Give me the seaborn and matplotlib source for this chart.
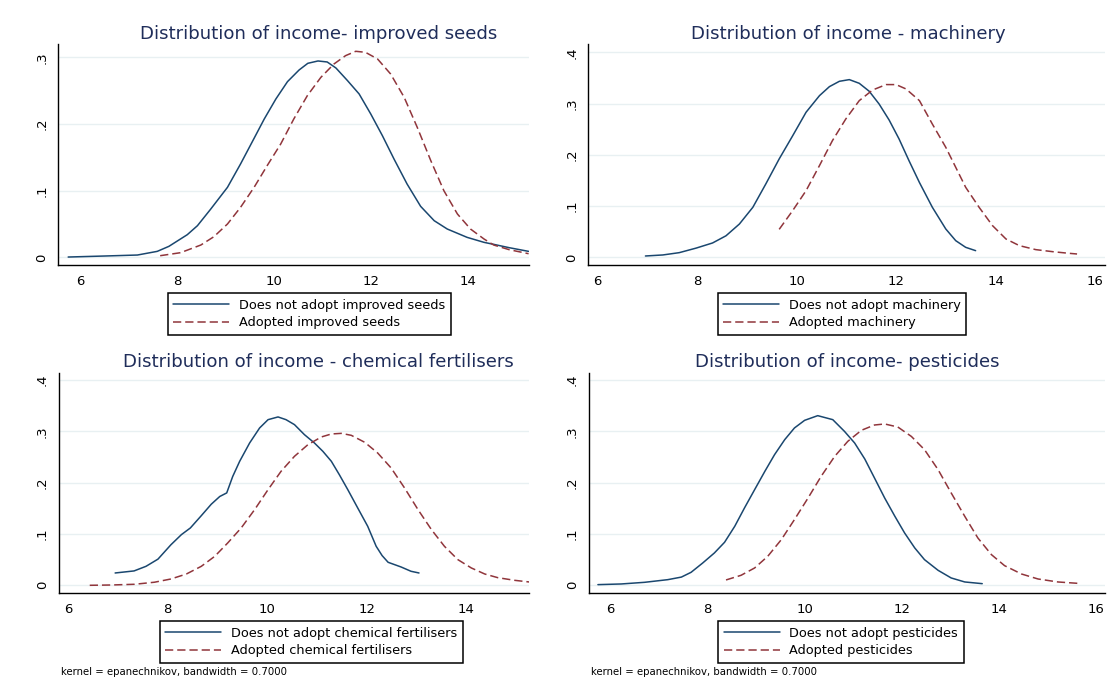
import numpy as np
import pandas as pd
import matplotlib
matplotlib.use("Agg")
import matplotlib.pyplot as plt
import seaborn as sns

# ---------------- data ----------------
seeds_no_x = [5.74, 6.48, 7.17, 7.58, 7.82, 8.20, 8.41, 8.68, 9.03, 9.30, 9.58, 9.79, 10.03, 10.27, 10.51, 10.69, 10.90, 11.09, 11.27, 11.51, 11.75, 11.99, 12.23, 12.47, 12.74, 13.02, 13.30, 13.57, 13.98, 14.33, 14.53, 14.85, 15.25]
seeds_no_y = [0.0005, 0.002, 0.0035, 0.009, 0.0165, 0.034, 0.0475, 0.072, 0.105, 0.140, 0.1785, 0.2075, 0.2375, 0.2635, 0.281, 0.291, 0.2945, 0.293, 0.284, 0.265, 0.245, 0.215, 0.1825, 0.1475, 0.110, 0.0765, 0.055, 0.0425, 0.030, 0.0225, 0.0195, 0.0145, 0.009]
seeds_yes_x = [7.64, 8.06, 8.48, 8.75, 9.03, 9.30, 9.58, 9.85, 10.13, 10.40, 10.68, 10.96, 11.23, 11.47, 11.68, 11.88, 12.13, 12.40, 12.68, 12.95, 13.23, 13.50, 13.78, 14.05, 14.33, 14.53, 14.85, 15.25]
seeds_yes_y = [0.0025, 0.007, 0.0185, 0.031, 0.050, 0.075, 0.105, 0.1375, 0.170, 0.2075, 0.2425, 0.270, 0.290, 0.3025, 0.309, 0.3075, 0.2975, 0.275, 0.240, 0.195, 0.145, 0.100, 0.065, 0.0425, 0.0275, 0.0185, 0.0115, 0.0055]

mach_no_x = [6.96, 7.31, 7.64, 7.98, 8.31, 8.58, 8.85, 9.12, 9.38, 9.65, 9.92, 10.19, 10.46, 10.66, 10.86, 11.06, 11.26, 11.46, 11.66, 11.86, 12.06, 12.26, 12.47, 12.73, 13.00, 13.20, 13.40, 13.60]
mach_no_y = [0.0026, 0.0046, 0.0091, 0.018, 0.028, 0.042, 0.065, 0.0976, 0.143, 0.192, 0.237, 0.283, 0.3154, 0.333, 0.3434, 0.3467, 0.3395, 0.324, 0.299, 0.268, 0.231, 0.1886, 0.146, 0.0976, 0.0553, 0.0325, 0.0195, 0.013]
mach_yes_x = [9.65, 9.92, 10.19, 10.46, 10.72, 10.99, 11.26, 11.53, 11.80, 12.00, 12.20, 12.47, 12.73, 13.00, 13.20, 13.40, 13.67, 13.94, 14.21, 14.48, 14.81, 15.15, 15.48, 15.64]
mach_yes_y = [0.0546, 0.091, 0.130, 0.179, 0.2276, 0.270, 0.3057, 0.3265, 0.337, 0.337, 0.3285, 0.3057, 0.260, 0.2146, 0.1756, 0.1366, 0.0976, 0.0618, 0.0358, 0.0228, 0.015, 0.011, 0.0078, 0.0065]

fert_no_x = [6.95, 7.33, 7.57, 7.81, 8.07, 8.28, 8.46, 8.68, 8.88, 9.05, 9.19, 9.31, 9.45, 9.65, 9.85, 10.02, 10.22, 10.38, 10.55, 10.75, 10.95, 11.12, 11.29, 11.45, 11.62, 11.82, 12.02, 12.19, 12.31, 12.43, 12.69, 12.89, 13.05]
fert_no_y = [0.024, 0.028, 0.037, 0.051, 0.079, 0.0987, 0.1117, 0.1357, 0.158, 0.173, 0.180, 0.212, 0.2416, 0.2773, 0.3065, 0.3227, 0.328, 0.3227, 0.313, 0.2935, 0.2773, 0.261, 0.2416, 0.2156, 0.1864, 0.1506, 0.115, 0.076, 0.0578, 0.0448, 0.0357, 0.0273, 0.024]
fert_yes_x = [6.44, 6.87, 7.34, 7.74, 8.07, 8.38, 8.68, 8.95, 9.21, 9.48, 9.75, 10.02, 10.28, 10.55, 10.82, 11.09, 11.29, 11.49, 11.69, 11.96, 12.22, 12.49, 12.76, 13.03, 13.30, 13.56, 13.83, 14.10, 14.37, 14.63, 14.97, 15.26]
fert_yes_y = [0.0, 0.0006, 0.002, 0.006, 0.0123, 0.022, 0.037, 0.0565, 0.0825, 0.1117, 0.1474, 0.1864, 0.222, 0.2513, 0.274, 0.289, 0.2948, 0.296, 0.2922, 0.2786, 0.2578, 0.2286, 0.1896, 0.1474, 0.1084, 0.076, 0.050, 0.0338, 0.022, 0.0149, 0.0097, 0.0065]

pest_no_x = [5.74, 6.22, 6.70, 7.18, 7.46, 7.66, 7.90, 8.14, 8.35, 8.56, 8.76, 8.97, 9.18, 9.38, 9.59, 9.79, 10.00, 10.27, 10.58, 10.82, 11.03, 11.24, 11.44, 11.65, 11.86, 12.06, 12.27, 12.47, 12.75, 13.02, 13.30, 13.66]
pest_no_y = [0.0013, 0.0026, 0.0058, 0.011, 0.016, 0.0253, 0.0435, 0.063, 0.0838, 0.115, 0.1506, 0.1864, 0.222, 0.2545, 0.2838, 0.3065, 0.3214, 0.3305, 0.3227, 0.300, 0.2773, 0.246, 0.209, 0.170, 0.1344, 0.102, 0.0727, 0.050, 0.0292, 0.0143, 0.0065, 0.0032]
pest_yes_x = [8.38, 8.69, 8.97, 9.24, 9.52, 9.79, 10.07, 10.34, 10.62, 10.89, 11.17, 11.44, 11.65, 11.92, 12.20, 12.47, 12.75, 13.02, 13.30, 13.57, 13.85, 14.12, 14.47, 14.81, 15.22, 15.62]
pest_yes_y = [0.0104, 0.0195, 0.0338, 0.0565, 0.089, 0.128, 0.170, 0.2123, 0.2513, 0.2805, 0.302, 0.3123, 0.3143, 0.3084, 0.290, 0.2643, 0.2253, 0.180, 0.1344, 0.0922, 0.0597, 0.0383, 0.022, 0.0123, 0.0065, 0.0039]

titles = ["Distribution of income- improved seeds",
          "Distribution of income - machinery",
          "Distribution of income - chemical fertilisers",
          "Distribution of income- pesticides"]
labels_no = ["Does not adopt improved seeds", "Does not adopt machinery",
             "Does not adopt chemical fertilisers", "Does not adopt pesticides"]
labels_yes = ["Adopted improved seeds", "Adopted machinery",
              "Adopted chemical fertilisers", "Adopted pesticides"]

yticks_short = [0, 0.1, 0.2, 0.3]
yticklabels_short = ["0", ".1", ".2", ".3"]
yticks_long = [0, 0.1, 0.2, 0.3, 0.4]
yticklabels_long = ["0", ".1", ".2", ".3", ".4"]
xticks_14 = [6, 8, 10, 12, 14]
xticks_16 = [6, 8, 10, 12, 14, 16]
note_text = "kernel = epanechnikov, bandwidth = 0.7000"

# ---------------- style ----------------
sns.set_style("white")
plt.rcParams["font.family"] = ["DejaVu Sans"]

BLUE = "#1a476f"
RED = "#90353b"
TITLE_C = "#1f2d5a"
GRID_C = "#e8f0f2"

W, H = 1120, 688
fig = plt.figure(figsize=(W / 100, H / 100), dpi=100)

def fx(px):
    return px / W

def fy(py):
    return 1 - py / H

panels = [
    dict(no=(seeds_no_x, seeds_no_y), yes=(seeds_yes_x, seeds_yes_y),
         box=(58, 44.3, 528.6, 264.7), xlim=(5.53, 15.25), ylim=(-0.011, 0.3195),
         yt=yticks_short, ytl=yticklabels_short, xt=xticks_14,
         tcx=318.4, tby=39.3, llx=167.5, lty=293, note=None),
    dict(no=(mach_no_x, mach_no_y), yes=(mach_yes_x, mach_yes_y),
         box=(588, 44.3, 1105.4, 264.7), xlim=(5.805, 16.21), ylim=(-0.0144, 0.4156),
         yt=yticks_long, ytl=yticklabels_long, xt=xticks_16,
         tcx=848.6, tby=39.3, llx=717.5, lty=293, note=None),
    dict(no=(fert_no_x, fert_no_y), yes=(fert_yes_x, fert_yes_y),
         box=(58.5, 373, 528.6, 593), xlim=(5.813, 15.25), ylim=(-0.015, 0.4136),
         yt=yticks_long, ytl=yticklabels_long, xt=xticks_14,
         tcx=318.2, tby=367.3, llx=159.6, lty=621, note=(60.7, 675)),
    dict(no=(pest_no_x, pest_no_y), yes=(pest_yes_x, pest_yes_y),
         box=(588.5, 373, 1105, 593), xlim=(5.546, 16.19), ylim=(-0.015, 0.4136),
         yt=yticks_long, ytl=yticklabels_long, xt=xticks_16,
         tcx=847.7, tby=367.3, llx=718.2, lty=621, note=(591, 675)),
]

for i, p in enumerate(panels):
    l, t, r, b = p["box"]
    ax = fig.add_axes([fx(l), fy(b), fx(r - l), (b - t) / H])
    df_no = pd.DataFrame({"x": p["no"][0], "y": p["no"][1]})
    df_yes = pd.DataFrame({"x": p["yes"][0], "y": p["yes"][1]})
    sns.lineplot(data=df_no, x="x", y="y", ax=ax, color=BLUE, linewidth=1.1,
                 estimator=None, sort=False, label=labels_no[i])
    sns.lineplot(data=df_yes, x="x", y="y", ax=ax, color=RED, linewidth=1.1,
                 linestyle=(0, (5.4, 2.6)), estimator=None, sort=False,
                 label=labels_yes[i])
    ax.set_xlim(*p["xlim"])
    ax.set_ylim(*p["ylim"])
    ax.set_xticks(p["xt"])
    ax.set_xticklabels([str(v) for v in p["xt"]])
    ax.set_yticks(p["yt"])
    ax.set_yticklabels(p["ytl"], rotation=90, va="center")
    ax.set_xlabel("")
    ax.set_ylabel("")
    for s in ["top", "right"]:
        ax.spines[s].set_visible(False)
    for s in ["left", "bottom"]:
        ax.spines[s].set_color("black")
        ax.spines[s].set_linewidth(1.0)
    ax.tick_params(axis="both", which="major", direction="out", length=4.5,
                   width=0.9, color="black", labelsize=9.5, labelcolor="black")
    ax.tick_params(axis="y", pad=2.5)
    ax.tick_params(axis="x", pad=3)
    ax.yaxis.grid(True, color=GRID_C, linewidth=1.0)
    ax.xaxis.grid(False)
    ax.set_axisbelow(True)

    fig.text(fx(p["tcx"]), fy(p["tby"]), titles[i], ha="center", va="baseline",
             fontsize=13.1, color=TITLE_C)

    leg = ax.legend(loc="upper left", bbox_to_anchor=(fx(p["llx"]), fy(p["lty"])),
                    bbox_transform=fig.transFigure, fontsize=9.3, frameon=True,
                    fancybox=False, shadow=False, handlelength=4.3,
                    handletextpad=0.75, borderpad=0.45, labelspacing=0.33,
                    borderaxespad=0.0, framealpha=1.0)
    leg.get_frame().set_edgecolor("black")
    leg.get_frame().set_linewidth(1.1)
    for txt in leg.get_texts():
        txt.set_color("black")

    if p["note"] is not None:
        fig.text(fx(p["note"][0]), fy(p["note"][1]), note_text, ha="left",
                 va="baseline", fontsize=7.3, color="black")

fig.savefig("out.png", dpi=100, facecolor="white")
